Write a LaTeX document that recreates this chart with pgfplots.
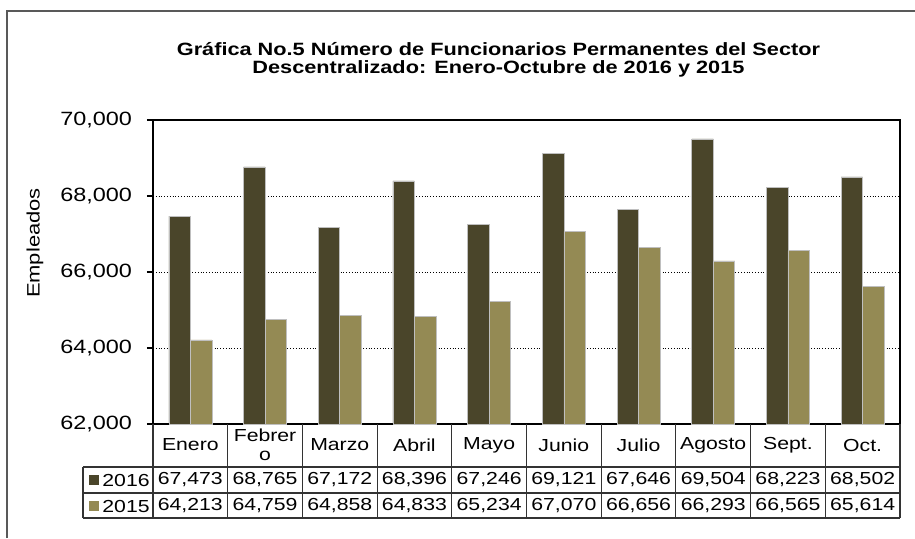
\documentclass[border=0pt]{standalone}
\usepackage{fontspec}
\setmainfont{Liberation Sans}[FakeStretch=1.22]
\usepackage{pgfplots}
\usepackage{pgfplotstable}
\pgfplotsset{compat=1.18}

\definecolor{ser16}{HTML}{4A452A}
\definecolor{ser15}{HTML}{948A54}
\pgfkeys{/pgf/number format/.cd, 1000 sep={,}, assume math mode=true}

% mes 0..9 = Enero..Octubre
\pgfplotstableread{
idx y16 y15
0 67473 64213
1 68765 64759
2 67172 64858
3 68396 64833
4 67246 65234
5 69121 67070
6 67646 66656
7 69504 66293
8 68223 66565
9 68502 65614
}\datos

\begin{document}
\begin{tikzpicture}
\begin{axis}[
    scale only axis,
    width=373.5pt, height=152pt,
    ybar=0pt, bar width=10.75pt,
    xmin=-0.5, xmax=9.5, xtick=\empty,
    ymin=62000, ymax=70000,
    ytick={62000,64000,...,70000},
    scaled y ticks=false,
    ytick pos=left,
    ymajorgrids,
    grid style={densely dotted, black, line width=0.5pt},
    axis line style={black, line width=1.1pt},
    tick align=outside, major tick length=3pt,
    tick style={black, line width=0.6pt},
    yticklabel style={font=\fontsize{9.6}{10}\selectfont, xshift=-4pt},
    /pgf/number format/.cd, fixed, 1000 sep={,}, assume math mode=true,
]
\addplot[fill=ser16, draw=black!25, line width=0.3pt] table[x=idx, y=y16]{\datos};
\addplot[fill=ser15, draw=black!25, line width=0.3pt] table[x=idx, y=y15]{\datos};
\end{axis}

% pixel frame: (X,Y) of the 915x538 reference
\begin{scope}[x=0.5pt, y=-0.5pt, shift={(-76.5pt,212pt)}]
  \useasboundingbox (0,0) rectangle (915,538);
  \draw[black!65, line width=0.9pt] (7,538) -- (7,11) -- (915,11);

  \node[font=\bfseries\fontsize{8.9}{10}\selectfont] at (498.5,49)
    {Gráfica No.5 Número de Funcionarios Permanentes del Sector};
  \node[font=\bfseries\fontsize{8.9}{10}\selectfont] at (498.5,69)
    {Descentralizado: Enero-Octubre de 2016 y 2015};
  \node[rotate=90, font=\fontsize{9}{10}\selectfont] at (35,243) {Empleados};

  % data table
  \begin{scope}[black!80, line width=0.55pt]
    \foreach \k in {0,...,10} \draw (153+74.7*\k,424) -- (153+74.7*\k,518);
    \draw (83,467) -- (900,467);
    \draw (83,493) -- (900,493);
    \draw (83,518) -- (900,518);
    \draw (83,467) -- (83,518);
  \end{scope}
  \fill[ser16] (89,475) rectangle (99,485);
  \fill[ser15] (89,501) rectangle (99,511);
  \node[anchor=west, inner sep=0pt, font=\fontsize{8.7}{10}\selectfont] at (102,480) {2016};
  \node[anchor=west, inner sep=0pt, font=\fontsize{8.7}{10}\selectfont] at (102,506) {2015};
  \foreach \m [count=\i from 0] in {Enero,{Febrer\\o},Marzo,Abril,Mayo,Junio,Julio,Agosto,Sept.,Oct.}
    \node[align=center, font=\fontsize{8.7}{9.6}\selectfont] at (190.35+74.7*\i,445) {\m};
  \foreach \i in {0,...,9}{
    \pgfplotstablegetelem{\i}{y16}\of\datos
    \node[font=\fontsize{8.7}{10}\selectfont] at (190.35+74.7*\i,480) {\pgfmathprintnumber{\pgfplotsretval}};
    \pgfplotstablegetelem{\i}{y15}\of\datos
    \node[font=\fontsize{8.7}{10}\selectfont] at (190.35+74.7*\i,506) {\pgfmathprintnumber{\pgfplotsretval}};
  }
\end{scope}
\end{tikzpicture}
\end{document}
